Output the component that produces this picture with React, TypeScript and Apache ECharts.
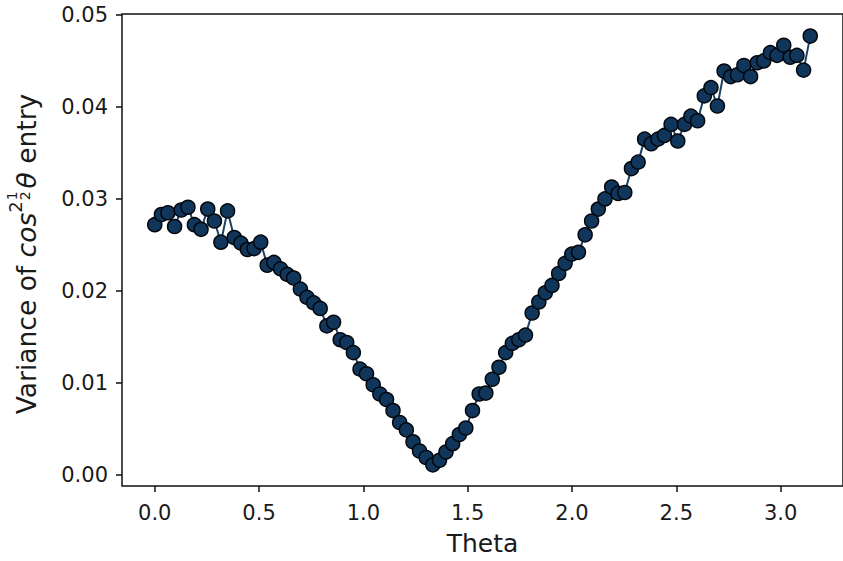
import React, { useEffect, useRef } from "react";
import * as echarts from "echarts";

const theta = [
  0.000, 0.032, 0.063, 0.095, 0.127, 0.159, 0.190, 0.222, 0.254, 0.286,
  0.317, 0.349, 0.381, 0.413, 0.444, 0.476, 0.508, 0.539, 0.571, 0.603,
  0.635, 0.666, 0.698, 0.730, 0.762, 0.793, 0.825, 0.857, 0.889, 0.920,
  0.952, 0.984, 1.015, 1.047, 1.079, 1.111, 1.142, 1.174, 1.206, 1.238,
  1.269, 1.301, 1.333, 1.365, 1.396, 1.428, 1.460, 1.491, 1.523, 1.555,
  1.587, 1.618, 1.650, 1.682, 1.714, 1.745, 1.777, 1.809, 1.841, 1.872,
  1.904, 1.936, 1.967, 1.999, 2.031, 2.063, 2.094, 2.126, 2.158, 2.190,
  2.221, 2.253, 2.285, 2.317, 2.348, 2.380, 2.412, 2.443, 2.475, 2.507,
  2.539, 2.570, 2.602, 2.634, 2.666, 2.697, 2.729, 2.761, 2.793, 2.824,
  2.856, 2.888, 2.919, 2.951, 2.983, 3.015, 3.046, 3.078, 3.110, 3.142,
];

const variance = [
  0.0272, 0.0283, 0.0285, 0.0270, 0.0288, 0.0291, 0.0272, 0.0267, 0.0289, 0.0276,
  0.0253, 0.0287, 0.0258, 0.0252, 0.0245, 0.0246, 0.0253, 0.0228, 0.0231, 0.0224,
  0.0218, 0.0214, 0.0202, 0.0193, 0.0187, 0.0181, 0.0162, 0.0166, 0.0147, 0.0144,
  0.0133, 0.0115, 0.0110, 0.0098, 0.0088, 0.0082, 0.0070, 0.0057, 0.0049, 0.0036,
  0.0026, 0.0019, 0.0011, 0.0016, 0.0025, 0.0034, 0.0044, 0.0051, 0.0070, 0.0088,
  0.0089, 0.0104, 0.0117, 0.0133, 0.0143, 0.0147, 0.0152, 0.0176, 0.0188, 0.0198,
  0.0206, 0.0219, 0.0230, 0.0240, 0.0242, 0.0261, 0.0276, 0.0289, 0.0300, 0.0313,
  0.0306, 0.0307, 0.0333, 0.0340, 0.0365, 0.0360, 0.0365, 0.0369, 0.0381, 0.0363,
  0.0381, 0.0390, 0.0385, 0.0412, 0.0421, 0.0401, 0.0439, 0.0433, 0.0435, 0.0445,
  0.0433, 0.0448, 0.0450, 0.0459, 0.0456, 0.0467, 0.0454, 0.0456, 0.0440, 0.0477,
];

const xTicks = [0, 0.5, 1.0, 1.5, 2.0, 2.5, 3.0];
const yTicks = [0, 0.01, 0.02, 0.03, 0.04, 0.05];

const FAMILY = '"DejaVu Sans", sans-serif';

function buildYLabel() {
  const canvas = document.createElement("canvas");
  const ctx = canvas.getContext("2d")!;
  const meas = (t: string, size: number, italic: boolean) => {
    ctx.font = `${italic ? "italic " : ""}${size}px "DejaVu Sans"`;
    return ctx.measureText(t).width;
  };
  const main = 26.5;
  const pieces: { t: string; s: number; i: boolean; dy: number }[] = [
    { t: "Variance of ", s: main, i: false, dy: 0 },
    { t: "cos", s: main, i: true, dy: 0 },
    { t: "2", s: 18, i: false, dy: -11 },
  ];
  const after = [
    { t: "θ", s: main, i: true, dy: 0 },
    { t: " entry", s: main, i: false, dy: 0 },
  ];
  const fracSize = 14;
  const fracW = Math.max(meas("1", fracSize, false), meas("2", fracSize, false)) + 2;
  let total = 0;
  pieces.forEach((p) => (total += meas(p.t, p.s, p.i)));
  total += fracW + 2;
  after.forEach((p) => (total += meas(p.t, p.s, p.i)));
  let x = -total / 2;
  const children: any[] = [];
  const mk = (t: string, s: number, i: boolean, px: number, dy: number) => ({
    type: "text",
    x: px,
    y: dy,
    style: {
      text: t,
      fontSize: s,
      fontFamily: FAMILY,
      fontStyle: i ? "italic" : "normal",
      fill: "#1a1a1a",
      align: "left",
      verticalAlign: "middle",
    },
  });
  pieces.forEach((p) => {
    children.push(mk(p.t, p.s, p.i, x, p.dy));
    x += meas(p.t, p.s, p.i);
  });
  children.push(mk("1", fracSize, false, x + 1, -14));
  children.push(mk("2", fracSize, false, x + 1, -1));
  x += fracW + 2;
  after.forEach((p) => {
    children.push(mk(p.t, p.s, p.i, x, p.dy));
    x += meas(p.t, p.s, p.i);
  });
  return {
    type: "group",
    x: 26,
    y: 254,
    rotation: Math.PI / 2,
    children,
  };
}

export default function App() {
  const ref = useRef<HTMLDivElement>(null);
  useEffect(() => {
    document.body.style.margin = "0";
    const chart = echarts.init(ref.current!, null, { renderer: "svg" });
    const data = theta.map((t, i) => [t, variance[i]]);
    chart.setOption({
      animation: false,
      backgroundColor: "#ffffff",
      grid: {
        left: 122,
        top: 14,
        right: -11,
        bottom: 72.3,
        show: true,
        borderColor: "#111",
        borderWidth: 1.5,
        backgroundColor: "transparent",
      },
      xAxis: {
        type: "value",
        min: -0.157,
        max: 3.299,
        name: "Theta",
        nameLocation: "middle",
        nameGap: 45,
        nameTextStyle: { fontSize: 25, fontFamily: FAMILY, color: "#1a1a1a" },
        axisLine: { show: false, onZero: false },
        splitLine: { show: false },
        axisTick: {
          show: true,
          inside: false,
          length: 6,
          lineStyle: { color: "#111", width: 1.5 },
          customValues: xTicks,
        },
        axisLabel: {
          margin: 16,
          fontSize: 21,
          fontFamily: FAMILY,
          color: "#1a1a1a",
          customValues: xTicks,
          formatter: (v: number) => v.toFixed(1),
        },
      },
      yAxis: {
        type: "value",
        min: -0.0012,
        max: 0.0501,
        axisLine: { show: false, onZero: false },
        splitLine: { show: false },
        axisTick: {
          show: true,
          inside: false,
          length: 6,
          lineStyle: { color: "#111", width: 1.5 },
          customValues: yTicks,
        },
        axisLabel: {
          margin: 14,
          fontSize: 21,
          fontFamily: FAMILY,
          color: "#1a1a1a",
          customValues: yTicks,
          formatter: (v: number) => v.toFixed(2),
        },
      },
      graphic: [buildYLabel()],
      series: [
        {
          type: "line",
          data,
          symbol: "circle",
          symbolSize: 14,
          showAllSymbol: true,
          lineStyle: { color: "#1b4268", width: 2 },
          itemStyle: { color: "#10375b", borderColor: "#03070c", borderWidth: 1.5 },
          z: 3,
        },
      ],
    });
    return () => chart.dispose();
  }, []);
  return (
    <div
      ref={ref}
      style={{ position: "absolute", left: 0, top: 0, width: 843, height: 561 }}
    />
  );
}
